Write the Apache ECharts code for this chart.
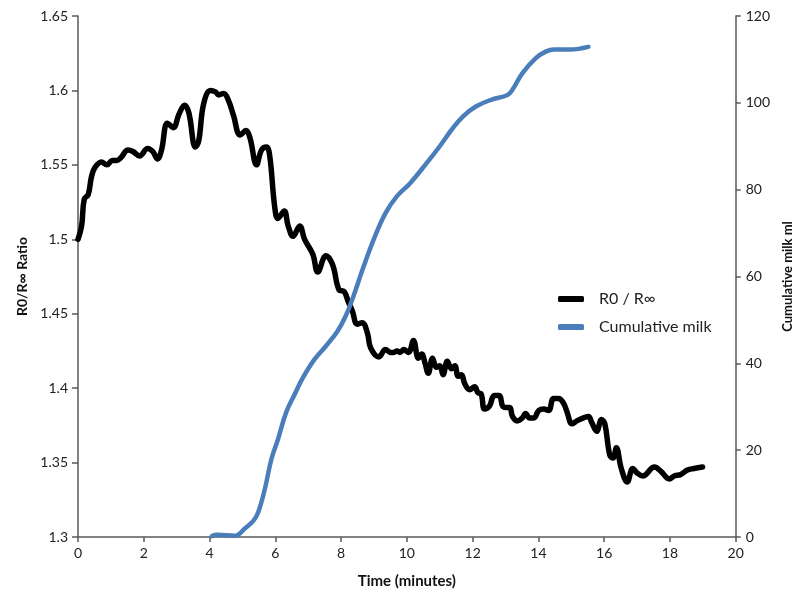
<!DOCTYPE html>
<html>
<head>
<meta charset="utf-8">
<script src="https://cdn.jsdelivr.net/npm/echarts@6/dist/echarts.min.js"></script>
<style>
html,body{margin:0;padding:0;background:#fff;}
#chart{width:802px;height:594px;}
</style>
</head>
<body>
<div id="chart"></div>
<script>
// Time (minutes) and R0/R∞ ratio
const timeRatio = [0,0.11,0.19,0.31,0.41,0.51,0.71,0.88,1.04,1.19,1.31,1.52,1.67,1.87,2.12,2.27,2.42,2.54,2.72,2.90,3.07,3.24,3.37,3.57,3.67,3.82,4.03,4.18,4.28,4.43,4.58,4.73,4.93,5.11,5.23,5.43,5.58,5.73,5.83,5.98,6.08,6.27,6.39,6.54,6.74,6.89,7.14,7.29,7.54,7.74,7.94,8.09,8.22,8.34,8.49,8.64,8.80,8.90,9.15,9.35,9.50,9.60,9.70,9.80,9.90,10.05,10.20,10.35,10.45,10.55,10.65,10.78,10.90,11.00,11.10,11.23,11.36,11.46,11.56,11.66,11.76,11.91,12.06,12.16,12.26,12.36,12.51,12.66,12.81,12.91,13.01,13.13,13.21,13.36,13.51,13.61,13.73,13.86,14.01,14.16,14.31,14.46,14.61,14.76,14.87,15.02,15.17,15.37,15.52,15.62,15.77,15.92,16.02,16.17,16.27,16.37,16.52,16.70,16.87,17.00,17.17,17.53,17.73,17.98,18.13,18.33,18.53,18.73,18.99];
const ratio = [1.500,1.509,1.527,1.530,1.542,1.548,1.552,1.550,1.553,1.553,1.555,1.560,1.559,1.556,1.561,1.559,1.554,1.560,1.578,1.575,1.584,1.590,1.585,1.562,1.566,1.591,1.600,1.599,1.597,1.598,1.593,1.583,1.570,1.573,1.568,1.550,1.560,1.562,1.556,1.522,1.514,1.519,1.509,1.502,1.509,1.500,1.490,1.478,1.489,1.483,1.466,1.465,1.458,1.452,1.443,1.444,1.437,1.427,1.421,1.426,1.424,1.424,1.425,1.424,1.426,1.424,1.432,1.420,1.423,1.417,1.410,1.420,1.414,1.415,1.409,1.418,1.413,1.415,1.408,1.409,1.403,1.399,1.401,1.397,1.396,1.386,1.388,1.395,1.395,1.388,1.387,1.387,1.381,1.378,1.380,1.383,1.380,1.380,1.385,1.386,1.385,1.393,1.393,1.390,1.384,1.376,1.378,1.380,1.381,1.377,1.371,1.379,1.376,1.355,1.353,1.360,1.346,1.337,1.346,1.343,1.341,1.347,1.344,1.339,1.341,1.342,1.345,1.346,1.347];

// Time (minutes) and cumulative milk (ml)
const timeMilk = [4.07,4.23,4.78,5.08,5.33,5.48,5.68,5.88,6.08,6.33,6.59,6.84,7.19,7.54,7.89,8.14,8.34,8.69,8.99,9.35,9.70,10.10,10.60,11.00,11.36,11.71,12.11,12.56,13.06,13.21,13.51,13.92,14.22,14.47,14.97,15.52];
const milk = [0.2,0.5,0.3,2.0,3.7,5.7,11.0,17.9,22.5,28.7,32.9,36.7,40.9,44.0,47.4,50.9,54.7,62.4,68.5,74.6,78.5,81.5,86.1,90.0,93.8,96.9,99.2,100.7,101.8,103.0,106.8,110.3,111.8,112.3,112.3,112.9];

const seriesNames = ['R0 / R\u221e', 'Cumulative milk'];
const xTicks = {min:0, max:20, interval:2};
const leftTicks = {min:1.3, max:1.65, interval:0.05};
const rightTicks = {min:0, max:120, interval:20};

const zip = (a,b) => a.map((v,i)=>[v,b[i]]);
const FONT = 'Lato, "Open Sans", sans-serif';
const axisCol = '#595959';

const chart = echarts.init(document.getElementById('chart'));
chart.setOption({
  animation:false,
  backgroundColor:'#fff',
  textStyle:{fontFamily:FONT},
  grid:{left:78, right:60, top:16, bottom:56, containLabel:false},
  legend:{
    orient:'vertical', left:553, top:286, itemGap:12,
    itemWidth:26, itemHeight:6, icon:'roundRect',
    textStyle:{fontFamily:FONT, fontSize:16, color:'#222', padding:[0,0,0,10]},
    data:seriesNames
  },
  xAxis:{
    type:'value', min:xTicks.min, max:xTicks.max, interval:xTicks.interval,
    name:'Time (minutes)', nameLocation:'middle', nameGap:37,
    nameTextStyle:{fontFamily:FONT, fontSize:15, fontWeight:'bold', color:'#111'},
    axisLine:{show:true, onZero:false, lineStyle:{color:axisCol, width:1.5}},
    axisTick:{show:true, length:5, lineStyle:{color:axisCol, width:1.5}},
    axisLabel:{fontFamily:FONT, fontSize:14, color:'#222', margin:9},
    splitLine:{show:false}
  },
  yAxis:[{
    type:'value', min:leftTicks.min, max:leftTicks.max, interval:leftTicks.interval,
    name:'R0/R\u221e Ratio', nameLocation:'middle', nameGap:49, nameRotate:90,
    nameTextStyle:{fontFamily:FONT, fontSize:14, fontWeight:'bold', color:'#111'},
    axisLine:{show:true, lineStyle:{color:axisCol, width:1.5}},
    axisTick:{show:true, length:6, lineStyle:{color:axisCol, width:1.5}},
    axisLabel:{fontFamily:FONT, fontSize:14, color:'#222', margin:10,
      formatter:v=>String(parseFloat(v.toFixed(2)))},
    splitLine:{show:false}
  },{
    type:'value', position:'right', min:rightTicks.min, max:rightTicks.max, interval:rightTicks.interval,
    name:'Cumulative milk ml', nameLocation:'middle', nameGap:44, nameRotate:90,
    nameTextStyle:{fontFamily:FONT, fontSize:13, fontWeight:'bold', color:'#111'},
    axisLine:{show:true, lineStyle:{color:axisCol, width:1.5}},
    axisTick:{show:true, length:5, lineStyle:{color:axisCol, width:1.5}},
    axisLabel:{fontFamily:FONT, fontSize:14, color:'#222', margin:10},
    splitLine:{show:false}
  }],
  series:[{
    name:seriesNames[0], type:'line', yAxisIndex:0, smooth:0.4, showSymbol:false,
    data:zip(timeRatio, ratio),
    lineStyle:{color:'#000', width:5.5, cap:'round', join:'round'},
    itemStyle:{color:'#000'}
  },{
    name:seriesNames[1], type:'line', yAxisIndex:1, smooth:0.4, showSymbol:false,
    data:zip(timeMilk, milk),
    lineStyle:{color:'#4a7ebb', width:4.5, cap:'round', join:'round'},
    itemStyle:{color:'#4a7ebb'}
  }]
});
</script>
</body>
</html>
